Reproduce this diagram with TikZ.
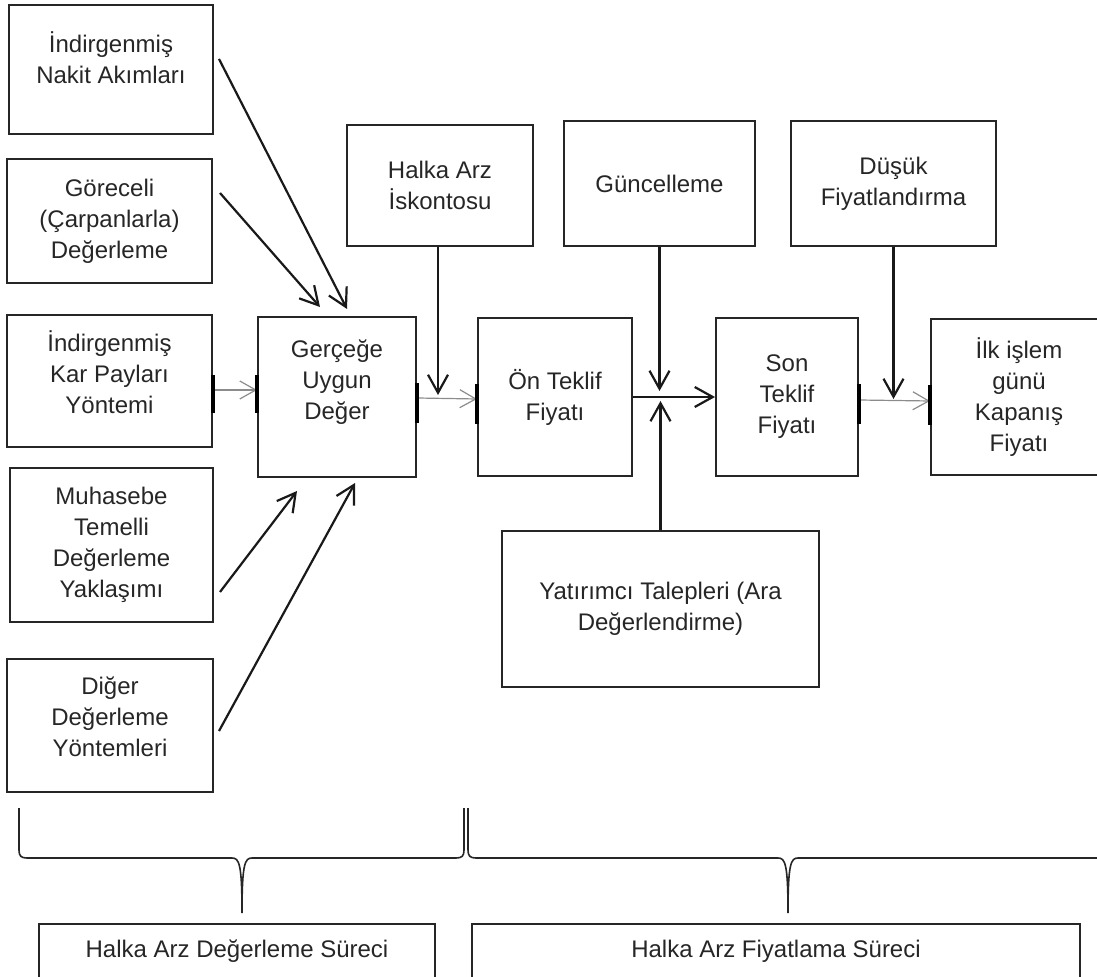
\documentclass[tikz,border=0pt]{standalone}
\usepackage{fontspec}
\setmainfont{Liberation Sans}
\usetikzlibrary{positioning,arrows.meta}

\begin{document}
\begin{tikzpicture}[x=0.5pt,y=-0.5pt]
 	\tikzstyle{box}=[rectangle, draw=black!85, line width=1pt, inner sep=0pt]
 	\tikzstyle{every label}=[align=center, font=\fontsize{12}{15.5}\selectfont, text=black!85]
 	\tikzstyle{connect}=[-{Straight Barb[length=9pt,width=10pt]}, line width=1.1pt, black!90]
 	\tikzstyle{light}=[-{Straight Barb[length=8pt,width=9pt]}, line width=0.6pt, black!45]
 	\tikzstyle{tick}=[line width=1.6pt, black]
 	\tikzstyle{brace}=[line width=0.8pt, black!85]
 	\useasboundingbox (0,0) rectangle (1097,977);
 	% valuation methods
 	\node[box, minimum width=102pt, minimum height=64.5pt] (ina) at (111,69.5) [label={[yshift=6pt]center:İndirgenmiş\\Nakit Akımları}] { };
 	\node[box, minimum width=102.5pt, minimum height=62pt] (gor) at (109.5,221) [label=center:{Göreceli\\(Çarpanlarla)\\Değerleme}] { };
 	\node[box, minimum width=102.5pt, minimum height=66pt] (ikp) at (109.5,381) [label={[yshift=4.5pt]center:İndirgenmiş\\Kar Payları\\Yöntemi}] { };
 	\node[box, minimum width=101.5pt, minimum height=77pt] (muh) at (111.5,545) [label=center:{Muhasebe\\Temelli\\Değerleme\\Yaklaşımı}] { };
 	\node[box, minimum width=103pt, minimum height=66.5pt] (dig) at (110,725.5) [label={[yshift=4.5pt]center:Diğer\\Değerleme\\Yöntemleri}] { };
 	% pricing chain
 	\node[box, minimum width=79pt, minimum height=80pt] (guv) at (337,397) [label={[yshift=7.5pt]center:Gerçeğe\\Uygun\\Değer}] { };
 	\node[box, minimum width=77pt, minimum height=79pt] (on) [right=30pt of guv, label=center:{Ön Teklif\\Fiyatı}] { };
 	\node[box, minimum width=71pt, minimum height=79pt] (son) [right=41pt of on, label=center:{Son\\Teklif\\Fiyatı}] { };
 	\node[box, minimum width=88pt, minimum height=78pt] (ilk) [right=35.5pt of son, label=center:{İlk işlem\\günü\\Kapanış\\Fiyatı}] { };
 	\node[box, minimum width=93pt, minimum height=60.5pt] (isk) at (440,185.5) [label=center:{Halka Arz\\İskontosu}] { };
 	\node[box, minimum width=95.5pt, minimum height=62.5pt] (gun) at (659.5,183.5) [label=center:Güncelleme] { };
 	\node[box, minimum width=102.5pt, minimum height=62.5pt] (dus) at (893.5,183.5) [label=center:{Düşük\\Fiyatlandırma}] { };
 	\node[box, minimum width=158.5pt, minimum height=78pt] (yat) at (660.5,609) [label=center:{Yatırımcı Talepleri (Ara\\Değerlendirme)}] { };
 	% process titles
 	\node[box, minimum width=198pt, minimum height=27pt] (deg) at (237,951) [label=center:Halka Arz Değerleme Süreci] { };
 	\node[box, minimum width=304pt, minimum height=27pt] (fiy) at (776,951) [label=center:Halka Arz Fiyatlama Süreci] { };
 	\coordinate (iskend) at (438,395);
 	\coordinate (gunend) at (659.5,391);
 	\coordinate (yatend) at (660.5,401);
 	\coordinate (dusend) at (893.5,399);
 	\path ([shift={(5,-10.5)}]ina.east) edge [connect] ([shift={(10,-7)}]guv.north)
 	([shift={(7,-28)}]gor.east) edge [connect] ([shift={(-17,-9)}]guv.north)
 	([shift={(6,47)}]muh.east) edge [connect] ([shift={(-40,13)}]guv.south)
 	([shift={(5,5.5)}]dig.east) edge [connect] ([shift={(18,5)}]guv.south)
 	([shift={(-2,0)}]isk.south) edge [connect] (iskend)
 	(on.east) edge [connect] (son.west)
 	(gun.south) edge [connect] (gunend)
 	(yat.north) edge [connect] (yatend)
 	(dus.south) edge [connect] (dusend);
 	\path ([shift={(0,9)}]ikp.east) edge [light] ([shift={(0,-7)}]guv.west)
 	([shift={(0,1)}]guv.east) edge [light] ([shift={(0,2)}]on.west)
 	([shift={(0,3)}]son.east) edge [light] ([shift={(0,4)}]ilk.west);
 	\draw[tick] ([shift={(0,-6)}]ikp.east) -- ([shift={(0,32)}]ikp.east);
 	\draw[tick] ([shift={(0,-22)}]guv.west) -- ([shift={(0,16)}]guv.west);
 	\draw[tick] ([shift={(0,-14)}]guv.east) -- ([shift={(0,26)}]guv.east);
 	\draw[tick] ([shift={(0,-13)}]on.west) -- ([shift={(0,27)}]on.west);
 	\draw[tick] ([shift={(0,-13)}]son.east) -- ([shift={(0,27)}]son.east);
 	\draw[tick] ([shift={(0,-12)}]ilk.west) -- ([shift={(0,28)}]ilk.west);
 	% braces
 	\draw[brace] (19,808) -- (19,850) .. controls (19,856) and (21,858) .. (27,858) -- (232,858) .. controls (239,858) and (242,863) .. (242,913) .. controls (242,863) and (245,858) .. (252,858) -- (456,858) .. controls (462,858) and (464,856) .. (464,850) -- (464,808);
 	\draw[brace] (468,808) -- (468,850) .. controls (468,856) and (470,858) .. (476,858) -- (778,858) .. controls (785,858) and (788,863) .. (788,913) .. controls (788,863) and (791,858) .. (798,858) -- (1110,858) .. controls (1116,858) and (1118,856) .. (1118,850) -- (1118,808);
 	\end{tikzpicture}
\end{document}
